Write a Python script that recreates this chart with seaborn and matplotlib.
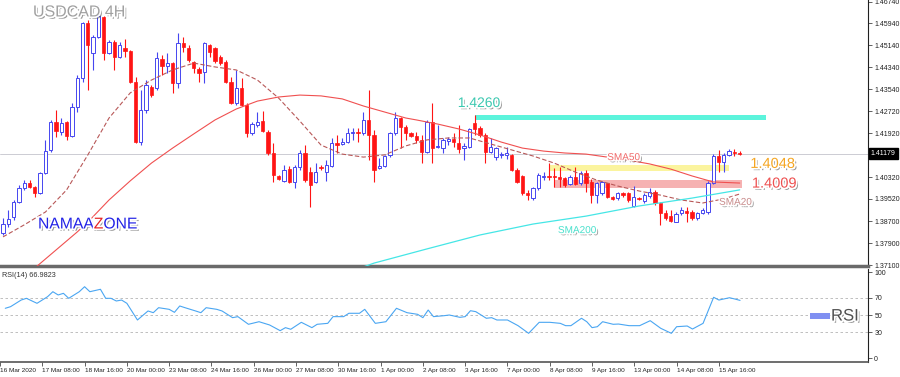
import matplotlib
matplotlib.use("Agg")
import matplotlib.pyplot as plt
import matplotlib.patheffects as pe
import matplotlib.transforms as mtransforms
import numpy as np
import pandas as pd
import seaborn as sns

# USDCAD 4H candles (16 Mar - 15 Apr 2020)
opens = [1.3827, 1.3860, 1.3886, 1.3941, 1.3992, 1.4010, 1.3996, 1.3974, 1.4047, 1.4131,
         1.4233, 1.4197, 1.4233, 1.4182, 1.4288, 1.4395, 1.4596, 1.4486, 1.4544, 1.4618,
         1.4486, 1.4526, 1.4471, 1.4504, 1.4493, 1.4380, 1.4160, 1.4277, 1.4362, 1.4358,
         1.4464, 1.4438, 1.4449, 1.4376, 1.4523, 1.4504, 1.4453, 1.4427, 1.4416, 1.4515,
         1.4504, 1.4471, 1.4453, 1.4380, 1.4303, 1.4358, 1.4296, 1.4193, 1.4222, 1.4237,
         1.4197, 1.4120, 1.4036, 1.4018, 1.4061, 1.4014, 1.4069, 1.4120, 1.4050, 1.4014,
         1.4069, 1.4050, 1.4072, 1.4157, 1.4153, 1.4160, 1.4193, 1.4197, 1.4193, 1.4241,
         1.4186, 1.4065, 1.4072, 1.4113, 1.4193, 1.4248, 1.4215, 1.4193, 1.4182, 1.4168,
         1.4124, 1.4233, 1.4142, 1.4138, 1.4164, 1.4171, 1.4157, 1.4138, 1.4142, 1.4230,
         1.4212, 1.4186, 1.4124, 1.4105, 1.4113, 1.4113, 1.4113, 1.4058, 1.4036, 1.3974,
         1.3955, 1.3992, 1.4032, 1.4036, 1.4036, 1.4032, 1.4029, 1.4007, 1.4032, 1.4010,
         1.4047, 1.4014, 1.3966, 1.3974, 1.4010, 1.3959, 1.3955, 1.3974, 1.3974, 1.3926,
         1.3955, 1.3944, 1.3963, 1.3977, 1.3937, 1.3900, 1.3889, 1.3867, 1.3900, 1.3908,
         1.3904, 1.3882, 1.3900, 1.3904, 1.4010, 1.4109, 1.4087, 1.4113, 1.4124, 1.4120]
highs = [1.3882, 1.3911, 1.3948, 1.4003, 1.4021, 1.4021, 1.3999, 1.4050, 1.4168, 1.4241,
         1.4277, 1.4248, 1.4237, 1.4303, 1.4405, 1.4599, 1.4607, 1.4552, 1.4662, 1.4621,
         1.4534, 1.4534, 1.4526, 1.4537, 1.4497, 1.4398, 1.4351, 1.4387, 1.4369, 1.4490,
         1.4479, 1.4486, 1.4453, 1.4559, 1.4544, 1.4515, 1.4456, 1.4435, 1.4526, 1.4519,
         1.4508, 1.4479, 1.4460, 1.4398, 1.4424, 1.4395, 1.4303, 1.4233, 1.4270, 1.4274,
         1.4204, 1.4157, 1.4040, 1.4076, 1.4072, 1.4076, 1.4131, 1.4149, 1.4069, 1.4083,
         1.4076, 1.4094, 1.4175, 1.4186, 1.4175, 1.4212, 1.4212, 1.4212, 1.4270, 1.4351,
         1.4204, 1.4102, 1.4113, 1.4197, 1.4270, 1.4252, 1.4222, 1.4197, 1.4197, 1.4186,
         1.4241, 1.4303, 1.4222, 1.4175, 1.4179, 1.4193, 1.4222, 1.4157, 1.4212, 1.4260,
         1.4219, 1.4193, 1.4175, 1.4142, 1.4124, 1.4142, 1.4116, 1.4065, 1.4040, 1.3985,
         1.3996, 1.4047, 1.4050, 1.4083, 1.4065, 1.4069, 1.4032, 1.4040, 1.4069, 1.4054,
         1.4058, 1.4025, 1.4014, 1.4018, 1.4010, 1.3963, 1.3977, 1.3977, 1.3977, 1.3999,
         1.3959, 1.3974, 1.3992, 1.3985, 1.3941, 1.3911, 1.3911, 1.3904, 1.3922, 1.3922,
         1.3911, 1.3904, 1.3919, 1.4018, 1.4116, 1.4131, 1.4120, 1.4135, 1.4135, 1.4127]
lows = [1.3820, 1.3849, 1.3875, 1.3937, 1.3985, 1.3992, 1.3959, 1.3970, 1.4043, 1.4124,
        1.4179, 1.4186, 1.4168, 1.4179, 1.4270, 1.4380, 1.4351, 1.4424, 1.4541, 1.4460,
        1.4483, 1.4424, 1.4468, 1.4471, 1.4376, 1.4157, 1.4149, 1.4266, 1.4325, 1.4351,
        1.4405, 1.4413, 1.4340, 1.4358, 1.4490, 1.4453, 1.4413, 1.4380, 1.4376, 1.4471,
        1.4449, 1.4442, 1.4376, 1.4300, 1.4296, 1.4292, 1.4179, 1.4186, 1.4215, 1.4197,
        1.4113, 1.4014, 1.4021, 1.4014, 1.4012, 1.3992, 1.4058, 1.4014, 1.3922, 1.4010,
        1.4058, 1.4018, 1.4069, 1.4120, 1.4149, 1.4157, 1.4168, 1.4160, 1.4186, 1.4094,
        1.4014, 1.4063, 1.4069, 1.4105, 1.4186, 1.4138, 1.4168, 1.4179, 1.4157, 1.4083,
        1.4120, 1.4083, 1.4138, 1.4120, 1.4149, 1.4142, 1.4120, 1.4094, 1.4138, 1.4186,
        1.4179, 1.4083, 1.4120, 1.4094, 1.4102, 1.4098, 1.4054, 1.4010, 1.3966, 1.3948,
        1.3948, 1.3985, 1.4021, 1.4021, 1.3996, 1.3996, 1.3996, 1.4003, 1.4003, 1.4003,
        1.3977, 1.3937, 1.3937, 1.3966, 1.3955, 1.3948, 1.3948, 1.3959, 1.3941, 1.3922,
        1.3948, 1.3937, 1.3955, 1.3930, 1.3857, 1.3875, 1.3867, 1.3867, 1.3893, 1.3867,
        1.3875, 1.3875, 1.3897, 1.3897, 1.4007, 1.4050, 1.4050, 1.4109, 1.4109, 1.4113]
closes = [1.3860, 1.3878, 1.3941, 1.3992, 1.4010, 1.3996, 1.3974, 1.4047, 1.4127, 1.4233,
          1.4201, 1.4230, 1.4182, 1.4288, 1.4395, 1.4596, 1.4515, 1.4544, 1.4621, 1.4486,
          1.4526, 1.4471, 1.4515, 1.4493, 1.4380, 1.4160, 1.4277, 1.4369, 1.4332, 1.4468,
          1.4438, 1.4449, 1.4376, 1.4523, 1.4508, 1.4460, 1.4431, 1.4413, 1.4523, 1.4490,
          1.4457, 1.4449, 1.4380, 1.4303, 1.4358, 1.4296, 1.4193, 1.4226, 1.4233, 1.4201,
          1.4120, 1.4040, 1.4025, 1.4058, 1.4014, 1.4069, 1.4120, 1.4021, 1.4003, 1.4050,
          1.4065, 1.4076, 1.4157, 1.4149, 1.4160, 1.4193, 1.4197, 1.4193, 1.4241, 1.4186,
          1.4058, 1.4072, 1.4109, 1.4193, 1.4248, 1.4215, 1.4193, 1.4182, 1.4168, 1.4124,
          1.4233, 1.4138, 1.4146, 1.4168, 1.4171, 1.4160, 1.4135, 1.4146, 1.4208, 1.4208,
          1.4186, 1.4124, 1.4142, 1.4138, 1.4116, 1.4120, 1.4058, 1.4014, 1.3974, 1.3966,
          1.3992, 1.4040, 1.4036, 1.4032, 1.4032, 1.4025, 1.4003, 1.4032, 1.4007, 1.4047,
          1.4010, 1.3966, 1.4010, 1.4014, 1.3959, 1.3952, 1.3974, 1.3966, 1.3948, 1.3959,
          1.3952, 1.3966, 1.3977, 1.3937, 1.3900, 1.3882, 1.3871, 1.3897, 1.3911, 1.3900,
          1.3882, 1.3900, 1.3911, 1.4010, 1.4109, 1.4087, 1.4113, 1.4127, 1.4120, 1.4118]

# moving averages (bar index, value)
sma20_idx = [0, 4, 8, 12, 16, 20, 24, 28, 32, 36, 40, 44, 48, 52, 56, 60, 64, 68,
             72, 76, 80, 84, 88, 92, 96, 100, 104, 108, 112, 116, 120, 124, 128, 132, 136, 139]
sma20 = [1.3813, 1.3857, 1.3904, 1.3985, 1.4113, 1.4248, 1.4340, 1.4387, 1.4424, 1.4449,
         1.4435, 1.4424, 1.4387, 1.4321, 1.4237, 1.4149, 1.4116, 1.4105, 1.4113, 1.4146,
         1.4168, 1.4175, 1.4175, 1.4153, 1.4131, 1.4109, 1.4083, 1.4050, 1.4021, 1.3999,
         1.3981, 1.3966, 1.3948, 1.3937, 1.3952, 1.3970]
sma50_idx = [6, 10, 14, 16, 20, 24, 28, 32, 36, 40, 44, 48, 52, 56, 60, 64, 68, 72,
             76, 78, 82, 86, 90, 94, 98, 102, 106, 110, 114, 118, 122, 126, 130, 134, 139]
sma50 = [1.3699, 1.3765, 1.3831, 1.3867, 1.3948, 1.4018, 1.4083, 1.4138, 1.4190, 1.4241,
         1.4281, 1.4310, 1.4325, 1.4332, 1.4329, 1.4318, 1.4292, 1.4270, 1.4248, 1.4241,
         1.4226, 1.4208, 1.4186, 1.4160, 1.4138, 1.4127, 1.4120, 1.4116, 1.4105, 1.4094,
         1.4080, 1.4061, 1.4036, 1.4014, 1.4010]
sma200_idx = [68, 70, 80, 90, 100, 110, 120, 130, 139]
sma200 = [1.3703, 1.3717, 1.3769, 1.3820, 1.3860, 1.3889, 1.3926, 1.3955, 1.3985]

# RSI(14)
rsi_idx = [0, 1, 3, 4, 6, 8, 9, 10, 11, 12, 14, 15, 16, 18, 19, 20, 21, 22, 23, 25,
           27, 28, 29, 31, 32, 33, 34, 36, 37, 38, 40, 41, 43, 44, 46, 48, 50, 52, 53, 54,
           56, 58, 59, 61, 62, 64, 65, 67, 68, 70, 72, 74, 76, 78, 79, 80, 81, 83, 84, 86,
           87, 88, 89, 91, 92, 93, 95, 97, 99, 101, 103, 105, 106, 107, 109, 110, 111, 112, 113, 115,
           116, 118, 120, 122, 124, 126, 127, 129, 130, 132, 134, 135, 137, 138, 139]
rsi = [57.8, 59.7, 67.4, 69.4, 63.6, 71.3, 77.1, 73.3, 75.2, 69.4, 77.1, 82.9, 77.1, 79.9, 69.4, 69.4, 66.3, 67.4, 63.6, 44.2,
       54.7, 52.7, 58.5, 56.6, 53.1, 60.5, 58.5, 54.7, 52.7, 58.5, 56.6, 54.7, 46.9, 48.1, 39.2, 42.2, 38.4, 31.8, 35.3, 33.4,
       41.5, 35.3, 39.2, 40.3, 48.1, 48.1, 52.0, 52.0, 56.6, 40.3, 42.2, 57.8, 52.7, 50.8, 46.9, 55.8, 48.1, 49.2, 50.0, 47.3,
       48.1, 55.0, 53.9, 46.2, 46.9, 44.2, 44.2, 37.6, 28.7, 41.5, 41.5, 40.3, 37.6, 37.6, 46.2, 42.2, 35.3, 36.4, 42.2, 39.2,
       39.5, 37.6, 37.6, 43.4, 34.5, 28.7, 36.4, 37.2, 33.7, 40.3, 70.6, 67.4, 70.1, 68.6, 67.0]

price_ticks = [1.46740, 1.45940, 1.45140, 1.44340, 1.43540, 1.42720, 1.41920,
               1.40320, 1.39520, 1.38700, 1.37900, 1.37100]
last_price = 1.41179
date_ticks = [-1, 7, 15, 23, 31, 39, 47, 55, 63, 71, 79, 87, 95, 103, 111, 119, 127, 135]
date_labels = ['16 Mar 2020', '17 Mar 08:00', '18 Mar 16:00', '20 Mar 00:00', '23 Mar 08:00',
               '24 Mar 16:00', '26 Mar 00:00', '27 Mar 08:00', '30 Mar 16:00', '1 Apr 00:00',
               '2 Apr 08:00', '3 Apr 16:00', '7 Apr 00:00', '8 Apr 08:00', '9 Apr 16:00',
               '13 Apr 00:00', '14 Apr 08:00', '15 Apr 16:00']

# horizontal zones: start bar, end bar, low, high, colour
zone_starts = [89, 103, 104]
zone_ends = [144, 137, 139.5]
zone_lows = [1.4241, 1.4054, 1.3992]
zone_highs = [1.4259, 1.4076, 1.4021]
zone_colors = ['#5cf4dc', '#fbf49e', '#f6b2b2']

BLUE = '#4646f0'
RED = '#ff1414'

sns.set_theme(style='white')
plt.rcParams['font.family'] = ['Liberation Sans', 'DejaVu Sans']

candles = pd.DataFrame({'open': opens, 'high': highs, 'low': lows, 'close': closes})
candles['idx'] = np.arange(len(candles))
candles['up'] = candles['close'] >= candles['open']
candles['body'] = (candles['close'] - candles['open']).abs().clip(lower=0.00018)
candles['bottom'] = candles[['open', 'close']].min(axis=1)

fig = plt.figure(figsize=(9, 3.77), dpi=100)
ax = fig.add_axes([0, 111 / 377, 868 / 900, 266 / 377])
ax_rsi = fig.add_axes([0, 15 / 377, 868 / 900, 93 / 377])
xlim = (-0.57, 163.2)


def shadow(width=2.4):
    return [pe.SimplePatchShadow(offset=(1.6, -1.6), shadow_rgbFace='#444444', alpha=0.55),
            pe.Stroke(linewidth=width, foreground='white'), pe.Normal()]


# zones behind the candles
for x0, x1, lo, hi, col in zip(zone_starts, zone_ends, zone_lows, zone_highs, zone_colors):
    ax.fill_between([x0, x1], lo, hi, color=col, lw=0, zorder=1)

ax.axhline(last_price, color='#c4c4cc', lw=0.6, zorder=1)

# candles
up = candles[candles['up']]
dn = candles[~candles['up']]
ax.vlines(up['idx'], up['low'], up['high'], color=BLUE, lw=0.8, zorder=2)
ax.vlines(dn['idx'], dn['low'], dn['high'], color=RED, lw=0.8, zorder=2)
ax.bar(up['idx'], up['body'], bottom=up['bottom'], width=0.62, facecolor='white',
       edgecolor=BLUE, lw=0.7, zorder=3)
ax.bar(dn['idx'], dn['body'], bottom=dn['bottom'], width=0.62, facecolor=RED,
       edgecolor=RED, lw=0.5, zorder=3)

# moving averages
sns.lineplot(x=sma20_idx, y=sma20, ax=ax, color='#b85858', lw=0.8, linestyle=(0, (4, 2)), zorder=4)
sns.lineplot(x=sma50_idx, y=sma50, ax=ax, color='#f05050', lw=0.8, zorder=4)
sns.lineplot(x=sma200_idx, y=sma200, ax=ax, color='#45e6e6', lw=0.9, zorder=4)

# annotations
ax.text(0.038, 0.955, 'USDCAD 4H', transform=ax.transAxes, fontsize=11.5, color='#a0a0a0',
        va='center', ha='left', path_effects=shadow(), zorder=6)
t1 = ax.text(0.0438, 0.158, 'NAMAA', transform=ax.transAxes, fontsize=11.3, color='#2323e6',
             va='center', ha='left', path_effects=shadow(), zorder=6)
t2 = ax.annotate('Z', xy=(1, 0), xycoords=t1, fontsize=11.3, color='#e62323',
                 va='bottom', ha='left', path_effects=shadow(), zorder=6)
ax.annotate('ONE', xy=(1, 0), xycoords=t2, fontsize=11.3, color='#2323e6',
            va='bottom', ha='left', path_effects=shadow(), zorder=6)
ax.text(85.8, 1.4303, '1.4260', fontsize=10, color='#3cc8b0', va='center', ha='left',
        path_effects=shadow(), zorder=6)
ax.text(141, 1.4080, '1.4048', fontsize=10.5, color='#f5a623', va='center', ha='left',
        path_effects=shadow(), zorder=6)
ax.text(141.3, 1.4008, '1.4009', fontsize=10.5, color='#ee5050', va='center', ha='left',
        path_effects=shadow(), zorder=6)
ax.text(114, 1.4105, 'SMA50', fontsize=7.2, color='#f06868', va='center', ha='left',
        path_effects=shadow(2.0), zorder=6)
ax.text(135.1, 1.3941, 'SMA20', fontsize=7.2, color='#c88a8a', va='center', ha='left',
        path_effects=shadow(2.0), zorder=6)
ax.text(104.7, 1.3838, 'SMA200', fontsize=7.2, color='#48e0cc', va='center', ha='left',
        path_effects=shadow(2.0), zorder=6)

ax.set_xlim(*xlim)
ax.set_ylim(1.37064, 1.4680)
ax.set_xticks([])
ax.yaxis.tick_right()
ax.set_yticks(price_ticks)
ax.set_yticklabels([f'{p:.5f}' for p in price_ticks])
ax.tick_params(axis='y', labelsize=5, length=3, width=0.5, pad=1.5, colors='#222222', right=True)
for s in ['left', 'top']:
    ax.spines[s].set_visible(False)
ax.spines['right'].set_color('#202020')
ax.spines['right'].set_linewidth(0.8)
ax.spines['bottom'].set_color('#6a6a6a')
ax.spines['bottom'].set_linewidth(2.5)
blend = mtransforms.blended_transform_factory(ax.transAxes, ax.transData)
ax.text(1.003, last_price, f'{last_price:.5f}', transform=blend, fontsize=5, color='white',
        va='center', ha='left', bbox=dict(boxstyle='square,pad=0.3', fc='black', ec='black'))

# RSI panel
for lvl in [70, 50, 30]:
    ax_rsi.axhline(lvl, color='#b4b4b4', lw=0.6, linestyle=(0, (3, 3)), zorder=1)
sns.lineplot(x=rsi_idx, y=rsi, ax=ax_rsi, color='#4aa6f2', lw=0.8, zorder=3)
ax_rsi.text(0.002, 0.97, 'RSI(14) 66.9823', transform=ax_rsi.transAxes, fontsize=5.2,
            color='#333333', va='top', ha='left')
ax_rsi.fill_between([152.3, 156], 45.3, 52.3, color='#8090f2', lw=0)
ax_rsi.text(156.2, 48.8, 'RSI', fontsize=12, color='#505050', va='center', ha='left',
            path_effects=shadow(), zorder=6)

ax_rsi.set_xlim(*xlim)
ax_rsi.set_ylim(-4.65, 103.5)
ax_rsi.yaxis.tick_right()
ax_rsi.set_yticks([0, 30, 50, 70, 100])
ax_rsi.set_yticklabels(['0', '30', '50', '70', '100'])
ax_rsi.set_xticks(date_ticks)
ax_rsi.set_xticklabels(date_labels, ha='left')
ax_rsi.tick_params(axis='y', labelsize=5, length=3, width=0.5, pad=1.5, colors='#222222', right=True)
ax_rsi.tick_params(axis='x', labelsize=4.6, length=3, width=0.5, pad=1.2, colors='#222222', bottom=True)
for s in ['left', 'top']:
    ax_rsi.spines[s].set_visible(False)
ax_rsi.spines['right'].set_color('#202020')
ax_rsi.spines['right'].set_linewidth(0.8)
ax_rsi.spines['bottom'].set_color('#555555')
ax_rsi.spines['bottom'].set_linewidth(1.2)
ax.set_xlabel('')
ax.set_ylabel('')
ax_rsi.set_xlabel('')
ax_rsi.set_ylabel('')

fig.savefig('out.png', dpi=100)
